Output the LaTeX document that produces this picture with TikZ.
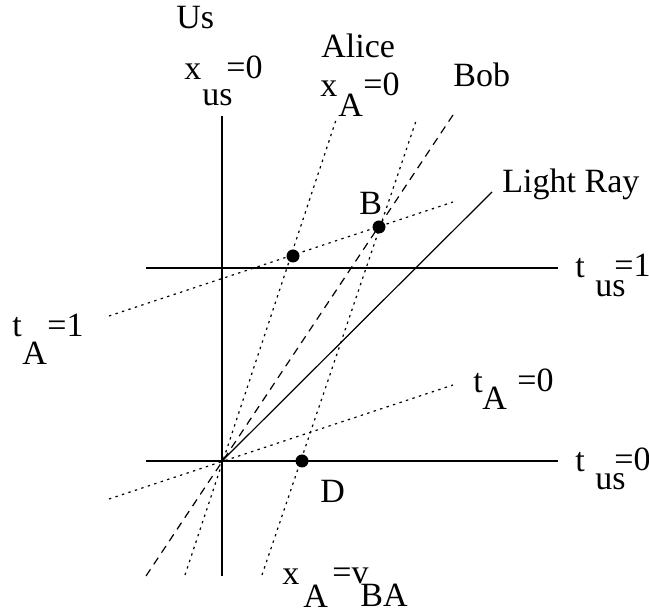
\documentclass[tikz,border=0pt]{standalone}
\usepackage{fontspec}
\setmainfont{Liberation Serif}
\usetikzlibrary{positioning}
\tikzset{
  axisline/.style={line width=0.7pt},
  alicelines/.style={line width=0.6pt, dash pattern=on 1.2pt off 2.2pt},
  boblines/.style={line width=0.6pt, dash pattern=on 4pt off 3pt},
  lbl/.style={font=\fontsize{17}{20}\selectfont, anchor=base west, inner sep=0pt},
  event/.style={circle, fill, inner sep=0pt, minimum size=6.5pt},
}

\begin{document}
\begin{tikzpicture}[x=0.5pt, y=-0.5pt]
  \useasboundingbox (0,0) rectangle (649,614);

  % Our frame: axes
  \coordinate (O) at (222,461);
  \coordinate (usTop) at (222,116);
  \coordinate (usBot) at (222,576);
  \coordinate (tzL) at (146,461);
  \coordinate (tzR) at (558,461);
  \coordinate (toL) at (146,268);
  \coordinate (toR) at (558,268);
  \draw[axisline] (usBot) -- (usTop);
  \draw[axisline] (tzL) -- (tzR);
  \draw[axisline] (toL) -- (toR);

  % Light ray
  \coordinate (rayEnd) at (492,192);
  \draw[line width=0.6pt] (O) -- (rayEnd);

  % Alice: world line and her time lines
  \coordinate (aliceBot) at (185,575);
  \coordinate (aliceTop) at (337,117);
  \coordinate (vbaBot) at (262,575);
  \coordinate (vbaTop) at (417,118);
  \coordinate (taZL) at (109,499);
  \coordinate (taZR) at (453,385);
  \coordinate (taOL) at (109,316);
  \coordinate (taOR) at (453,202);
  \draw[alicelines] (aliceBot) -- (aliceTop);
  \draw[alicelines] (vbaBot) -- (vbaTop);
  \draw[alicelines] (taZL) -- (taZR);
  \draw[alicelines] (taOL) -- (taOR);

  % Bob
  \coordinate (bobBot) at (146,576);
  \coordinate (bobTop) at (453,115);
  \draw[boblines] (bobBot) -- (bobTop);

  % Events
  \node[event] (evA) at (293,256) {};
  \node[event] (evB) at (379,227) {};
  \node[event] (evD) at (302,461) {};

  % Labels
  \node[lbl] (us) at (176,29) {Us};
  \node[lbl] (xus) at (184,80) {x};
  \node[lbl] (xusSub) at (202,106) {us};
  \node[lbl] (xusVal) at (226,79) {=0};

  \node[lbl] (alice) at (321,58) {Alice};
  \node[lbl] (xA) at (320,97) {x};
  \node[lbl] (xASub) at (338,117) {A};
  \node[lbl] (xAVal) at (363,96) {=0};

  \node[lbl] (bob) at (453,87) {Bob};
  \node[lbl] (ray) at (502,193) {Light Ray};
  \node[lbl] (labB) at (359,215) {B};
  \node[lbl] (labD) at (320,503) {D};

  \node[lbl] (tus1) at (575,278) {t};
  \node[lbl] (tus1Sub) at (595,297) {us};
  \node[lbl] (tus1Val) at (614,277) {=1};

  \node[lbl] (tus0) at (575,472) {t};
  \node[lbl] (tus0Sub) at (595,490) {us};
  \node[lbl] (tus0Val) at (614,471) {=0};

  \node[lbl] (tA1) at (12,337) {t};
  \node[lbl] (tA1Sub) at (22,365) {A};
  \node[lbl] (tA1Val) at (47,337) {=1};

  \node[lbl] (tA0) at (473,393) {t};
  \node[lbl] (tA0Sub) at (482,410) {A};
  \node[lbl] (tA0Val) at (517,392) {=0};

  \node[lbl] (xv) at (282,585) {x};
  \node[lbl] (xvSub) at (303,608) {A};
  \node[lbl] (xvVal) at (332,584) {=v};
  \node[lbl] (xvSub2) at (360,607) {BA};
\end{tikzpicture}
\end{document}
